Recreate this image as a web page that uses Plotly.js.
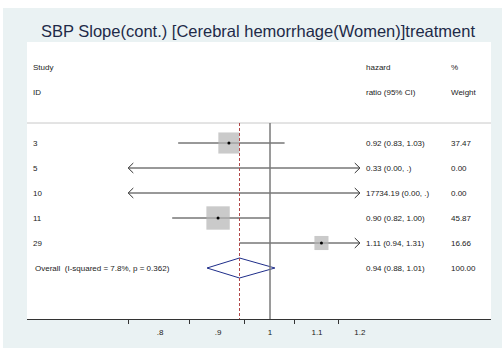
<!DOCTYPE html>
<html>
<head>
<meta charset="utf-8">
<script src="https://cdn.plot.ly/plotly-3.0.1.min.js"></script>
<style>html,body{margin:0;padding:0;background:#fff;}#chart{width:502px;height:349px;}</style>
</head>
<body>
<div id="chart"></div>
<script>
// ---- data ----
const studies = ['3', '5', '10', '11', '29'];
const es      = [0.92, 0.33, 17734.19, 0.90, 1.11];
const lo      = [0.83, 0.00, 0.00, 0.82, 0.94];
const hi      = [1.03, null, null, 1.00, 1.31];
const weights = [37.47, 0.00, 0.00, 45.87, 16.66];
const overallLabel = 'Overall\u00a0\u00a0(I-squared = 7.8%, p = 0.362)';
const overallES = 0.94, overallLo = 0.88, overallHi = 1.01, overallWeight = 100.00;
const labelTicks = [0.8, 0.9, 1, 1.1, 1.2];
const labelTickText = ['.8', '.9', '1', '1.1', '1.2'];
const minorTicks = [0.75, 0.85, 0.95, 1.05, 1.15];
const clipLo = 0.75, clipHi = 1.2;   // display limits where CIs become arrows
const titleText = 'SBP Slope(cont.) [Cerebral hemorrhage(Women)]treatment';

// ---- layout constants ----
const W = 502, H = 349;
const mL = 27, mR = 11, mT = 42, mB = 30;
const plotW = W - mL - mR, plotH = H - mT - mB;
const xRange = [-0.2141, 0.1947];
const yRange = [-1.04, 10.04];
const px2paper = p => (p - mL) / plotW;
const py2paper = p => (mT + plotH - p) / plotH;
const font = 'Liberation Sans, Arial, sans-serif';
const txtColor = '#222';
const armX = 0.0045, armY = 0.2;   // arrowhead size (log10 units / row units)

const n = studies.length;
const rowY = i => n - i + 1;   // study i -> row position
const fmt = v => (v === null || v === undefined) ? '.' : v.toFixed(2);

const traces = [];
const lineX = [], lineY = [];
const boxX = [], boxY = [], boxS = [];
for (let i = 0; i < n; i++) {
  const y = rowY(i);
  const l = lo[i], h = (hi[i] === null ? Infinity : hi[i]);
  const a = Math.max(l, clipLo), b = Math.min(h, clipHi);
  lineX.push(a, b, null); lineY.push(y, y, null);
  if (l < clipLo) {
    lineX.push(clipLo * Math.pow(10, armX), clipLo, clipLo * Math.pow(10, armX), null);
    lineY.push(y + armY, y, y - armY, null);
  }
  if (h > clipHi) {
    lineX.push(clipHi / Math.pow(10, armX), clipHi, clipHi / Math.pow(10, armX), null);
    lineY.push(y + armY, y, y - armY, null);
  }
  if (weights[i] > 0 && es[i] >= clipLo && es[i] <= clipHi) {
    boxX.push(es[i]); boxY.push(y); boxS.push(3.45 * Math.sqrt(weights[i]));
  }
}
traces.push({x: lineX, y: lineY, type: 'scatter', mode: 'lines', xaxis: 'x', yaxis: 'y',
  line: {color: '#333', width: 1}, hoverinfo: 'skip', showlegend: false});
traces.push({x: boxX, y: boxY, type: 'scatter', mode: 'markers', xaxis: 'x', yaxis: 'y',
  marker: {symbol: 'square', size: boxS, color: '#b4b4b4', line: {width: 0}}, hoverinfo: 'skip', showlegend: false});
traces.push({x: boxX, y: boxY, type: 'scatter', mode: 'markers', xaxis: 'x', yaxis: 'y',
  marker: {symbol: 'circle', size: 3, color: '#000'}, hoverinfo: 'skip', showlegend: false});
// overall diamond
const oy = 1, dh = 0.4;
traces.push({x: [overallLo, overallES, overallHi, overallES, overallLo], y: [oy, oy + dh, oy, oy - dh, oy],
  type: 'scatter', mode: 'lines', xaxis: 'x', yaxis: 'y', line: {color: '#1f2e8a', width: 1},
  hoverinfo: 'skip', showlegend: false});
// dummy trace for label axis
traces.push({x: [1], y: [null], type: 'scatter', mode: 'markers', xaxis: 'x2', yaxis: 'y',
  hoverinfo: 'skip', showlegend: false});

// annotations
const ann = [];
const addText = (px, y, t) => ann.push({xref: 'paper', yref: 'y', x: px2paper(px), y: y, text: t,
  xanchor: 'left', yanchor: 'middle', showarrow: false, font: {family: font, size: 8, color: txtColor}});
const xStudy = 31, xES = 364, xW = 449;
addText(xStudy, 9.04, 'Study'); addText(xStudy, 8.04, 'ID');
addText(xES, 9.04, 'hazard'); addText(xES, 8.04, 'ratio (95% CI)');
addText(xW, 9.04, '%'); addText(xW, 8.04, 'Weight');
for (let i = 0; i < n; i++) {
  const y = rowY(i);
  addText(xStudy, y, studies[i]);
  addText(xES, y, es[i].toFixed(2) + ' (' + fmt(lo[i]) + ', ' + fmt(hi[i]) + ')');
  addText(xW, y, weights[i].toFixed(2));
}
addText(xStudy + 2, oy, overallLabel);
addText(xES, oy, overallES.toFixed(2) + ' (' + fmt(overallLo) + ', ' + fmt(overallHi) + ')');
addText(xW, oy, overallWeight.toFixed(2));

const sepY = 6.8;
const shapes = [
  // white page margins around the light panel
  {type: 'rect', xref: 'paper', yref: 'paper', x0: px2paper(-2), x1: px2paper(504), y0: py2paper(-2), y1: py2paper(8),
   fillcolor: '#ffffff', line: {width: 0}, layer: 'above'},
  {type: 'rect', xref: 'paper', yref: 'paper', x0: px2paper(-2), x1: px2paper(3), y0: py2paper(351), y1: py2paper(-2),
   fillcolor: '#ffffff', line: {width: 0}, layer: 'above'},
  {type: 'rect', xref: 'paper', yref: 'paper', x0: px2paper(-2), x1: px2paper(504), y0: py2paper(351), y1: py2paper(348),
   fillcolor: '#ffffff', line: {width: 0}, layer: 'above'},
  // header separator
  {type: 'line', xref: 'paper', yref: 'y', x0: 0, x1: 1, y0: sepY, y1: sepY, line: {color: '#c8c8c8', width: 1}},
  // null line
  {type: 'line', xref: 'x', yref: 'y', x0: 1, x1: 1, y0: sepY, y1: yRange[0], line: {color: '#7a7a7a', width: 1.5}},
  // overall estimate dashed line
  {type: 'line', xref: 'x', yref: 'y', x0: overallES, x1: overallES, y0: sepY, y1: yRange[0], line: {color: '#b04848', width: 1, dash: '3px,2px'}}
];

const layout = {
  width: W, height: H,
  margin: {l: mL, r: mR, t: mT, b: mB, pad: 0},
  paper_bgcolor: '#eaf2f3', plot_bgcolor: '#ffffff',
  showlegend: false,
  title: {text: titleText, x: px2paper(258), xref: 'paper', xanchor: 'center', y: 1 - 31 / H, yref: 'container', yanchor: 'middle',
    font: {family: font, size: 16.5, color: '#1e2a48'}},
  xaxis: {type: 'log', range: xRange, tickvals: minorTicks, ticktext: minorTicks.map(() => ''), ticks: 'outside', ticklen: 4,
    tickcolor: '#333', tickwidth: 1, showline: true, linecolor: '#333', linewidth: 1, showgrid: false, zeroline: false, fixedrange: true},
  xaxis2: {type: 'log', range: xRange, overlaying: 'x', side: 'bottom', tickvals: labelTicks, ticktext: labelTickText,
    ticks: 'outside', ticklen: 5, tickcolor: 'rgba(0,0,0,0)', showline: false, showgrid: false, zeroline: false,
    tickfont: {family: font, size: 8, color: txtColor}, fixedrange: true},
  yaxis: {range: yRange, visible: false, fixedrange: true},
  annotations: ann,
  shapes: shapes
};

Plotly.newPlot('chart', traces, layout, {displayModeBar: false, staticPlot: true});
</script>
</body>
</html>
